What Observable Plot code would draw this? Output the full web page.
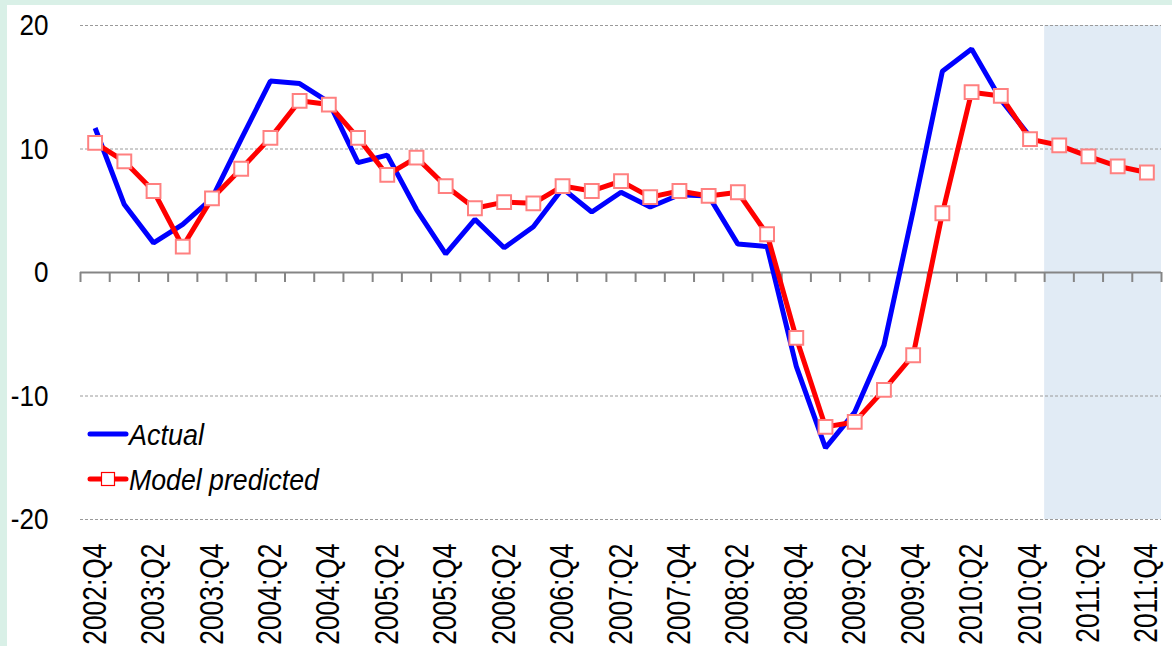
<!DOCTYPE html>
<html>
<head>
<meta charset="utf-8">
<script src="https://cdn.jsdelivr.net/npm/d3@7"></script>
<script src="https://cdn.jsdelivr.net/npm/@observablehq/plot@0.6"></script>
<style>
  html, body { margin: 0; padding: 0; }
  body { width: 1172px; height: 646px; background: #d9f0e7; position: relative; overflow: hidden;
         font-family: "Liberation Sans", Arial, sans-serif; }
  #panel { position: absolute; left: 7px; top: 5px; right: 0; bottom: 0; background: #ffffff; }
  #chart { position: absolute; left: 0; top: 0; }
  #legend { position: absolute; left: 0; top: 0; pointer-events: none; }
</style>
</head>
<body>
<div id="panel"></div>
<div id="chart"></div>
<svg id="legend" width="1172" height="646" font-family="Liberation Sans, Arial, sans-serif" font-size="30" font-style="italic">
  <line x1="90" y1="434" x2="126" y2="434" stroke="#0000ff" stroke-width="5" stroke-linecap="round"/>
  <text transform="translate(129,445) scale(0.9,1)" fill="#000">Actual</text>
  <line x1="90" y1="479" x2="126" y2="479" stroke="#ff0000" stroke-width="5" stroke-linecap="round"/>
  <rect x="101.5" y="472.5" width="13" height="13" fill="#ffffff" stroke="#ff0000" stroke-width="1.2"/>
  <text transform="translate(129,490) scale(0.89,1)" fill="#000">Model predicted</text>
</svg>
<script>
const quarters = [
  "2002:Q4",
  "2003:Q1","2003:Q2","2003:Q3","2003:Q4",
  "2004:Q1","2004:Q2","2004:Q3","2004:Q4",
  "2005:Q1","2005:Q2","2005:Q3","2005:Q4",
  "2006:Q1","2006:Q2","2006:Q3","2006:Q4",
  "2007:Q1","2007:Q2","2007:Q3","2007:Q4",
  "2008:Q1","2008:Q2","2008:Q3","2008:Q4",
  "2009:Q1","2009:Q2","2009:Q3","2009:Q4",
  "2010:Q1","2010:Q2","2010:Q3","2010:Q4",
  "2011:Q1","2011:Q2","2011:Q3","2011:Q4"
];
const actual = [11.7, 5.5, 2.4, 3.9, 6.0, 10.8, 15.5, 15.3, 13.8, 8.9, 9.5, 5.1, 1.5, 4.3, 2.0, 3.7,
  6.8, 4.9, 6.5, 5.3, 6.3, 6.2, 2.3, 2.1, -7.6, -14.2, -11.3, -5.9, 5.0, 16.3, 18.1, 14.0, 11.0];
const predicted = [10.5, 9.0, 6.6, 2.1, 6.0, 8.4, 10.9, 13.9, 13.6, 10.9, 7.9, 9.3, 7.0, 5.2, 5.7, 5.6,
  7.0, 6.6, 7.4, 6.1, 6.6, 6.2, 6.5, 3.1, -5.3, -12.5, -12.1, -9.5, -6.7, 4.8, 14.6, 14.3, 10.8,
  10.3, 9.4, 8.6, 8.1];
const yTicks = [20, 10, 0, -10, -20];
const gridValues = [20, 10, -10, -20];
const labelQuarters = quarters.filter((q, i) => i % 2 === 0);
const forecastStart = "2011:Q1";

const n = quarters.length;
const xDomain = [-0.5, n - 0.5];
const yDomain = [d3.min(yTicks), d3.max(yTicks)];
const boundaries = d3.range(n + 1).map(i => i - 0.5);
const fIdx = quarters.indexOf(forecastStart);
const shade = [{x1: fIdx - 0.5, x2: n - 0.5, y1: yDomain[0], y2: yDomain[1]}];
const FONT = "'Liberation Sans', Arial, sans-serif";

const chart = Plot.plot({
  width: 1172,
  height: 646,
  marginLeft: 80,
  marginRight: 11,
  marginTop: 25,
  marginBottom: 127,
  style: {background: "transparent", fontFamily: FONT, color: "#000"},
  x: {type: "linear", domain: xDomain, axis: null},
  y: {domain: yDomain, axis: null},
  marks: [
    Plot.rect(shade, {x1: "x1", x2: "x2", y1: "y1", y2: "y2", fill: "#e1ebf5"}),
    Plot.ruleY(gridValues, {stroke: "#9a9a9a", strokeWidth: 1, strokeDasharray: "3,2"}),
    Plot.ruleY([0], {stroke: "#858585", strokeWidth: 2}),
    Plot.ruleX(boundaries, {x: d => d, y1: 0, y2: 0, insetBottom: -10, stroke: "#858585", strokeWidth: 2}),
    Plot.line(actual, {x: (d, i) => i, y: d => d, stroke: "#0000ff", strokeWidth: 5, strokeLinejoin: "miter", strokeLinecap: "butt"}),
    Plot.line(predicted, {x: (d, i) => i, y: d => d, stroke: "#ff0000", strokeWidth: 5, strokeLinejoin: "miter"}),
    Plot.dot(predicted, {x: (d, i) => i, y: d => d, symbol: "square", r: 7.8, fill: "#ffffff", stroke: "#ff8080", strokeWidth: 2}),
    // y tick labels
    Plot.text(yTicks, {y: d => d, text: d => String(d), frameAnchor: "left", textAnchor: "end", dx: -32,
      fontSize: 30, fill: "#000"}),
    // x tick labels
    Plot.text(labelQuarters, {x: q => quarters.indexOf(q), text: q => q, frameAnchor: "bottom", rotate: -90,
      textAnchor: "end", lineAnchor: "middle", dy: 24, fontSize: 33, fill: "#000"})
  ]
});
document.getElementById("chart").appendChild(chart);

// emulate a narrow font by condensing each label along its reading direction
function condense(group, s) {
  if (!group) return;
  group.querySelectorAll("text").forEach(el => {
    const L = el.getComputedTextLength();
    if (L > 0) {
      el.setAttribute("textLength", (L * s).toFixed(1));
      el.setAttribute("lengthAdjust", "spacingAndGlyphs");
    }
  });
}
const textGroups = chart.querySelectorAll("g[aria-label='text']");
condense(textGroups[0], 0.87);
condense(textGroups[1], 0.8);
</script>
</body>
</html>
